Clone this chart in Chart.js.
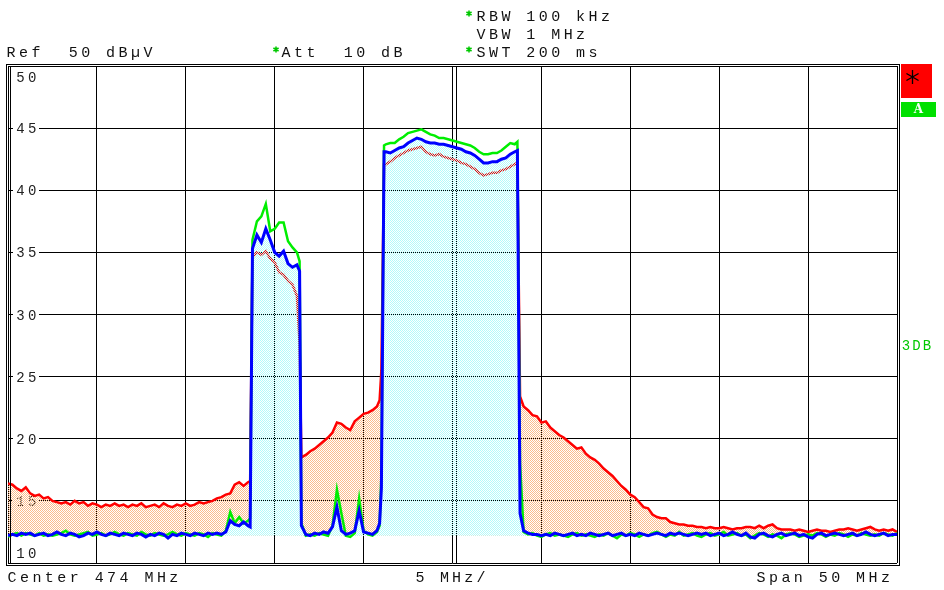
<!DOCTYPE html>
<html><head><meta charset="utf-8">
<script src="https://cdn.jsdelivr.net/npm/chart.js@4.4.1/dist/chart.umd.min.js"></script>
<style>html,body{margin:0;padding:0;background:#fff;overflow:hidden}canvas{display:block}</style>
</head><body>
<canvas id="c" width="944" height="590"></canvas>
<script>
// ---- frequency axis (MHz) ----
const freqMHz = [
449,449.25,449.5,449.75, 450,450.25,450.5,450.75, 451,451.25,451.5,451.75,
452,452.25,452.5,452.75, 453,453.25,453.5,453.75, 454,454.25,454.5,454.75,
455,455.25,455.5,455.75, 456,456.25,456.5,456.75, 457,457.25,457.5,457.75,
458,458.25,458.5,458.75, 459,459.25,459.5,459.75, 460,460.25,460.5,460.75,
461,461.25,461.5,461.75, 462,462.25,462.5,462.62,
462.75,463,463.25,463.5,463.75,464,464.25,464.5,464.75,465,465.25,465.4,465.5,
465.75,466,466.25,466.5,466.75,467,467.25,467.5,467.75,468,468.25,468.5,468.75,469,469.25,469.5,469.75,469.9,470,470.15,
470.25,470.5,470.75,471,471.25,471.5,471.75,472,472.25,472.5,472.75,473,473.25,473.5,473.75,474,474.25,474.5,474.75,475,475.25,475.5,475.75,476,476.25,476.5,476.75,477,477.25,477.5,477.65,477.8,478,
478.25,478.5,478.75,
479,479.25,479.5,479.75, 480,480.25,480.5,480.75, 481,481.25,481.5,481.75,
482,482.25,482.5,482.75, 483,483.25,483.5,483.75, 484,484.25,484.5,484.75,
485,485.25,485.5,485.75, 486,486.25,486.5,486.75, 487,487.25,487.5,487.75,
488,488.25,488.5,488.75, 489,489.25,489.5,489.75, 490,490.25,490.5,490.75,
491,491.25,491.5,491.75, 492,492.25,492.5,492.75, 493,493.25,493.5,493.75,
494,494.25,494.5,494.75, 495,495.25,495.5,495.75, 496,496.25,496.5,496.75,
497,497.25,497.5,497.75, 498,498.25,498.5,498.75,
499
];

// ---- red trace (dBµV) ----
const traceRed = [
16.4,16.3,16.0,15.8, 16.1,15.6,15.4,15.5, 15.2,15.3,15.0,14.9,
14.8,14.9,14.7,15.0, 14.8,14.9,14.6,14.8, 14.7,14.5,14.7,14.6,
14.8,14.6,14.7,14.5, 14.7,14.6,14.8,14.5, 14.6,14.7,14.5,14.8,
14.6,14.5,14.7,14.6, 14.8,14.6,14.7,14.9, 14.8,14.9,15.0,15.2,
15.3,15.5,15.6,16.3, 16.5,16.2,16.5,16.6,
34.6,35.0,34.8,35.1,34.5,34.2,33.4,33.2,32.7,32.4,31.5,27.7,18.5,
18.7,19.0,19.2,19.5,19.8,20.1,20.5,21.3,21.2,20.9,20.7,21.4,21.7,22.0,22.1,22.3,22.6,23.1,25.5,42.1,
42.1,42.3,42.6,42.8,43.0,43.2,43.3,43.4,43.5,43.1,42.9,42.8,42.9,42.7,42.6,42.5,42.4,42.2,42.1,41.9,41.7,41.4,41.2,41.3,41.4,41.4,41.6,41.7,41.9,42.1,42.2,23.4,22.6,
22.3,21.9,21.8,
21.3,21.4,20.9,20.6, 20.3,20.1,19.8,19.5, 19.2,19.3,18.8,18.5,
18.3,18.0,17.6,17.3, 17.0,16.6,16.2,15.9, 15.5,15.3,14.9,14.5,
14.4,13.9,13.7,13.6, 13.6,13.3,13.2,13.1, 13.1,13.0,13.0,12.9,
12.9,12.8,12.9,12.8, 12.8,12.9,12.8,12.7, 12.8,12.8,12.9,12.9,
12.8,13.0,12.8,13.0, 13.1,12.8,12.7,12.7, 12.7,12.6,12.7,12.6,
12.5,12.6,12.7,12.6, 12.6,12.5,12.6,12.7, 12.7,12.8,12.7,12.6,
12.7,12.8,12.9,12.7, 12.6,12.7,12.6,12.7,
12.5
];

// ---- blue trace (dBµV) ----
const traceBlue = [
12.2,12.3,12.2,12.4, 12.3,12.4,12.2,12.3, 12.4,12.2,12.3,12.5,
12.3,12.2,12.4,12.3, 12.1,12.2,12.4,12.3, 12.5,12.3,12.2,12.4,
12.3,12.2,12.4,12.3, 12.2,12.4,12.3,12.1, 12.3,12.2,12.4,12.3,
12.0,12.3,12.2,12.4, 12.3,12.2,12.4,12.3, 12.2,12.4,12.3,12.4,
12.3,12.5,13.4,13.1, 13.0,13.3,13.0,12.9,
35.3,36.4,35.8,36.9,36.0,35.0,34.7,35.1,34.1,33.8,34.0,33.5,13.0,
12.3,12.2,12.4,12.3,12.5,12.4,12.9,14.5,12.6,12.3,12.4,12.6,14.2,12.5,12.4,12.3,12.6,13.2,16.0,43.1,
43.1,43.0,43.2,43.4,43.5,43.8,44.0,44.2,44.1,43.9,43.8,43.8,43.7,43.7,43.6,43.5,43.4,43.3,43.1,43.0,42.8,42.5,42.2,42.2,42.3,42.3,42.5,42.6,42.9,43.1,43.2,14.0,12.6,
12.4,12.3,12.3,
12.2,12.3,12.2,12.4, 12.3,12.2,12.3,12.4, 12.2,12.3,12.2,12.4,
12.3,12.2,12.3,12.4, 12.2,12.3,12.4,12.2, 12.3,12.2,12.4,12.3,
12.2,12.3,12.4,12.3, 12.2,12.4,12.3,12.4, 12.3,12.2,12.3,12.4,
12.3,12.4,12.2,12.3, 12.4,12.2,12.3,12.5, 12.3,12.2,12.4,12.1,
12.0,12.3,12.4,12.2, 12.1,12.3,12.4,12.2, 12.3,12.4,12.2,12.3,
12.1,12.0,12.3,12.4, 12.2,12.3,12.4,12.3, 12.2,12.3,12.4,12.2,
12.3,12.5,12.3,12.2, 12.3,12.4,12.2,12.3,
12.3
];

// ---- green trace (dBµV) ----
const traceGreen = [
12.1,12.3,12.4,12.2, 12.4,12.3,12.2,12.4, 12.2,12.3,12.2,12.3,
12.4,12.6,12.3,12.2, 12.3,12.4,12.5,12.2, 12.3,12.4,12.2,12.3,
12.5,12.3,12.2,12.4, 12.3,12.2,12.5,12.3, 12.2,12.4,12.3,12.2,
12.3,12.5,12.3,12.2, 12.4,12.3,12.2,12.4, 12.3,12.1,12.4,12.3,
12.2,12.6,14.1,13.2, 13.7,13.2,13.4,13.6,
36.0,37.5,37.9,38.9,36.7,36.9,37.4,37.4,35.9,35.4,35.0,34.3,13.2,
12.2,12.3,12.2,12.4,12.3,12.2,13.0,15.9,14.0,12.2,12.1,12.4,15.2,12.6,12.3,12.2,12.5,13.0,17.0,43.6,
43.7,43.8,43.8,44.1,44.3,44.6,44.7,44.8,44.9,44.7,44.5,44.4,44.2,44.2,44.1,44.0,43.9,43.8,43.7,43.6,43.4,43.1,42.9,42.9,43.0,43.0,43.2,43.5,43.8,43.7,43.9,18.0,12.5,
12.3,12.4,12.2,
12.1,12.3,12.4,12.2, 12.3,12.2,12.1,12.3, 12.4,12.2,12.3,12.2,
12.1,12.3,12.2,12.4, 12.2,12.0,12.3,12.2, 12.4,12.3,12.1,12.3,
12.2,12.4,12.5,12.3, 12.1,12.3,12.2,12.5, 12.2,12.3,12.4,12.2,
12.1,12.3,12.4,12.2, 12.3,12.5,12.2,12.3, 12.4,12.2,12.3,12.0,
12.2,12.4,12.3,12.1, 12.3,12.2,12.0,12.3, 12.4,12.3,12.1,12.2,
12.3,12.2,12.4,12.3, 12.1,12.3,12.2,12.4, 12.3,12.1,12.3,12.2,
12.4,12.3,12.2,12.3, 12.2,12.4,12.3,12.2,
12.4
];

const yTickValues = [10,15,20,25,30,35,40,45,50];
const fillBase = 12.2;
const headerLeft = 'Ref  50 dBµV';
const headerAtt = 'Att  10 dB';
const headerRight = ['RBW 100 kHz', 'VBW 1 MHz', 'SWT 200 ms'];
const footer = ['Center 474 MHz', '5 MHz/', 'Span 50 MHz'];
const sideLabels = ['A', '3DB'];

if (traceRed.length !== freqMHz.length || traceBlue.length !== freqMHz.length || traceGreen.length !== freqMHz.length) {
  console.error('length mismatch', freqMHz.length, traceRed.length, traceBlue.length, traceGreen.length);
}

function pts(arr){ return freqMHz.map((f,i)=>({x:f, y:arr[i]})); }
function checker(color){
  const c=document.createElement('canvas'); c.width=2; c.height=2;
  const g=c.getContext('2d'); g.fillStyle=color; g.fillRect(0,0,1,1); g.fillRect(1,1,1,1);
  return g.createPattern(c,'repeat');
}
const canvas=document.getElementById('c');
const ctx=canvas.getContext('2d');
const orangePat=checker('rgb(251,188,140)');
const cyanPat=checker('rgb(180,250,250)');

const MONO='"Liberation Mono", "DejaVu Sans Mono", monospace';
function mono(g, s, x, yc, pitch, size, color){
  g.save(); g.font=size+'px '+MONO; g.fillStyle=color; g.textAlign='center'; g.textBaseline='alphabetic';
  for(let i=0;i<s.length;i++){ g.fillText(s[i], x+i*pitch+4, yc+Math.round(size*0.33)); }
  g.restore();
}
function star(g, cx, cy, r, color, lw){
  g.save(); g.strokeStyle=color; g.lineWidth=lw; g.beginPath();
  for(let k=0;k<3;k++){ const a=Math.PI/2+k*Math.PI/3; g.moveTo(cx+r*Math.cos(a),cy+r*Math.sin(a)); g.lineTo(cx-r*Math.cos(a),cy-r*Math.sin(a)); }
  g.stroke(); g.restore();
}

const overlay={
  id:'overlay',
  beforeDatasetsDraw(chart){
    const g=chart.ctx, y=chart.scales.y, x=chart.scales.x, ca=chart.chartArea;
    g.save();
    const cx=Math.round(x.getPixelForValue(474))+3.5;
    g.strokeStyle='#000'; g.lineWidth=1; g.beginPath(); g.moveTo(cx,ca.top); g.lineTo(cx,ca.bottom); g.stroke();
    yTickValues.forEach(v=>{
      let py=y.getPixelForValue(v);
      if(v===50) py+=11; else if(v===10) py-=10;
      else { g.fillStyle='#fff'; g.fillRect(13, Math.round(py)-2, 26, 4); }
      mono(g, String(v), 16.5, py, 11.7, 14, '#222');
    });
    g.restore();
  },
  afterDraw(chart){
    const g=chart.ctx;
    g.save();
    g.strokeStyle='#000'; g.lineWidth=1;
    g.strokeRect(6.5,64.5,893,501);
    g.beginPath(); g.moveTo(10.5,66); g.lineTo(10.5,563); g.stroke();
    mono(g, headerLeft, 7, 52, 12.45, 15, '#111');
    star(g, 276, 49.5, 3, '#00c800', 1.6);
    mono(g, headerAtt, 282, 52, 12.45, 15, '#111');
    star(g, 469, 13.5, 3, '#00c800', 1.6);
    mono(g, headerRight[0], 477, 16, 12.45, 15, '#111');
    mono(g, headerRight[1], 477, 34, 12.45, 15, '#111');
    star(g, 469, 49.5, 3, '#00c800', 1.6);
    mono(g, headerRight[2], 477, 52, 12.45, 15, '#111');
    mono(g, footer[0], 8, 577, 12.45, 15, '#111');
    mono(g, footer[1], 416, 577, 12.2, 15, '#111');
    mono(g, footer[2], 757, 577, 12.45, 15, '#111');
    g.fillStyle='#ff0000'; g.fillRect(901,64,31,34);
    star(g, 912.5, 77, 7, '#000', 1.3);
    g.fillStyle='#00e000'; g.fillRect(901,102,35,15);
    g.font='bold 12px "DejaVu Serif", serif'; g.fillStyle='#f4fff4'; g.textAlign='center'; g.textBaseline='middle';
    g.fillText(sideLabels[0], 918.5, 110);
    mono(g, sideLabels[1], 902, 345, 10.5, 14, '#00c800');
    g.restore();
  }
};

new Chart(ctx,{
  type:'line',
  data:{datasets:[
    {label:'Trace blue', data:pts(traceBlue), borderColor:'#0000ff', borderWidth:3, pointRadius:0, fill:false, order:1},
    {label:'Trace green', data:pts(traceGreen), borderColor:'#00ee00', borderWidth:2.5, pointRadius:0, fill:false, order:2},
    {label:'Blue fill', data:pts(traceBlue), borderColor:'rgba(0,0,0,0)', borderWidth:0, backgroundColor:cyanPat, pointRadius:0, fill:{value:fillBase}, order:3},
    {label:'Trace red', data:pts(traceRed), borderColor:'#ff0000', borderWidth:2.5, backgroundColor:orangePat, pointRadius:0, fill:{value:fillBase}, order:4}
  ]},
  options:{
    responsive:false, animation:false, devicePixelRatio:1,
    layout:{padding:{left:8, right:47, top:66, bottom:27}},
    plugins:{legend:{display:false}, tooltip:{enabled:false}},
    elements:{line:{tension:0}},
    scales:{
      x:{type:'linear', min:449, max:499, ticks:{display:false, stepSize:5}, grid:{color:'#000', lineWidth:1, drawTicks:false}, border:{display:false}},
      y:{type:'linear', min:10, max:50, ticks:{display:false, stepSize:5}, grid:{color:'#000', lineWidth:1, drawTicks:false}, border:{display:false}}
    }
  },
  plugins:[overlay]
});
</script>
</body></html>
